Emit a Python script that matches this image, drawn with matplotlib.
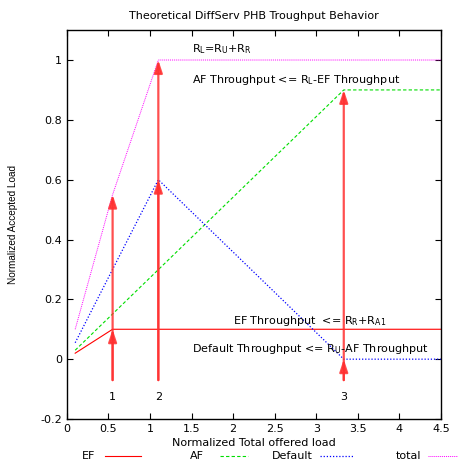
import matplotlib
matplotlib.use("Agg")
import matplotlib.pyplot as plt
from matplotlib.lines import Line2D
from matplotlib import font_manager

plt.rcParams['font.family'] = ['DejaVu Sans']
plt.rcParams['mathtext.fontset'] = 'custom'
plt.rcParams['mathtext.rm'] = 'DejaVu Sans'

FS = 8

# Data
ef_x = [0.1, 0.55, 4.5]
ef_y = [0.02, 0.1, 0.1]
af_x = [0.1, 3.33, 4.5]
af_y = [0.03, 0.9, 0.9]
def_x = [0.1, 1.1, 3.33, 4.5]
def_y = [0.055, 0.6, 0.0, 0.0]
tot_x = [0.1, 0.55, 1.1, 4.5]
tot_y = [0.1, 0.55, 1.0, 1.0]

arrow_x = [0.55, 0.55, 1.1, 1.1, 3.33, 3.33]
arrow_tip = [0.1, 0.55, 0.6, 1.0, 0.0, 0.9]
arrow_base = -0.07
point_labels = ['1', '2', '3']
point_x = [0.55, 1.1, 3.33]

xticks = [0, 0.5, 1, 1.5, 2, 2.5, 3, 3.5, 4, 4.5]
xtick_labels = ['0', '0.5', '1', '1.5', '2', '2.5', '3', '3.5', '4', '4.5']
yticks = [-0.2, 0, 0.2, 0.4, 0.6, 0.8, 1]
ytick_labels = ['-0.2', '0', '0.2', '0.4', '0.6', '0.8', '1']

styles = {
    'EF': dict(color='#ff0000', lw=0.8, ls='-'),
    'AF': dict(color='#00dd00', lw=0.8, ls=(0, (3, 2))),
    'Default': dict(color='#0000ff', lw=0.9, ls=(0, (1, 1.5))),
    'total': dict(color='#ff00ff', lw=0.7, ls=(0, (1, 1))),
}

W, H = 458, 463
fig = plt.figure(figsize=(W / 100, H / 100), dpi=100)
ax = fig.add_axes([0.146, 0.095, 0.817, 0.84])

ax.plot(ef_x, ef_y, label='EF', **styles['EF'])
ax.plot(af_x, af_y, label='AF', **styles['AF'])
ax.plot(def_x, def_y, label='Default', **styles['Default'])
ax.plot(tot_x, tot_y, label='total', **styles['total'])

for x, t in zip(arrow_x, arrow_tip):
    ax.annotate('', xy=(x, t), xytext=(x, arrow_base),
                arrowprops=dict(arrowstyle='-|>,head_width=0.25,head_length=0.75',
                                color='#ff3030', lw=1.6, alpha=0.85,
                                shrinkA=0, shrinkB=0))

for x, s in zip(point_x, point_labels):
    ax.text(x, -0.125, s, ha='center', va='center', fontsize=FS)

ax.text(1.5, 1.035, r'R$_{\mathregular{L}}$=R$_{\mathregular{U}}$+R$_{\mathregular{R}}$',
        fontsize=FS, ha='left', va='center')
ax.text(1.5, 0.933, r'AF Throughput <= R$_{\mathregular{L}}$-EF Throughput',
        fontsize=FS, ha='left', va='center')
ax.text(2.0, 0.128, r'EF Throughput  <= R$_{\mathregular{R}}$+R$_{\mathregular{A1}}$',
        fontsize=FS, ha='left', va='center')
ax.text(1.5, 0.033, r'Default Throughput <= R$_{\mathregular{U}}$-AF Throughput',
        fontsize=FS, ha='left', va='center')

ax.set_xlim(0, 4.5)
ax.set_ylim(-0.2, 1.1)
ax.set_xticks(xticks)
ax.set_xticklabels(xtick_labels)
ax.set_yticks(yticks)
ax.set_yticklabels(ytick_labels)
ax.tick_params(direction='in', top=True, right=True, labelsize=FS, length=4, width=0.8)
for sp in ax.spines.values():
    sp.set_linewidth(1.0)

ax.set_title('Theoretical DiffServ PHB Troughput Behavior', fontsize=FS, pad=8)
ax.set_xlabel('Normalized Total offered load', fontsize=FS, labelpad=3)
names = {f.name for f in font_manager.fontManager.ttflist}
ylab_family = ['Liberation Sans Narrow'] if 'Liberation Sans Narrow' in names else ['Liberation Sans']
ax.set_ylabel('Normalized Accepted Load', fontsize=7.2, family=ylab_family)
ax.yaxis.set_label_coords(-0.13, 0.5)

# gnuplot-style legend row at the bottom (label, then line sample)
leg_names = ['EF', 'AF', 'Default', 'total']
leg_text_x = [82, 190, 272, 396]
leg_line_x = [(105, 141), (220, 248), (320, 354), (428, 458)]
leg_y = 1 - 456 / H
for name, tx, (x0, x1) in zip(leg_names, leg_text_x, leg_line_x):
    fig.text(tx / W, leg_y, name, fontsize=FS, ha='left', va='center')
    fig.add_artist(Line2D([x0 / W, x1 / W], [leg_y, leg_y], transform=fig.transFigure,
                          **styles[name]))

fig.savefig('out.png', dpi=100)
